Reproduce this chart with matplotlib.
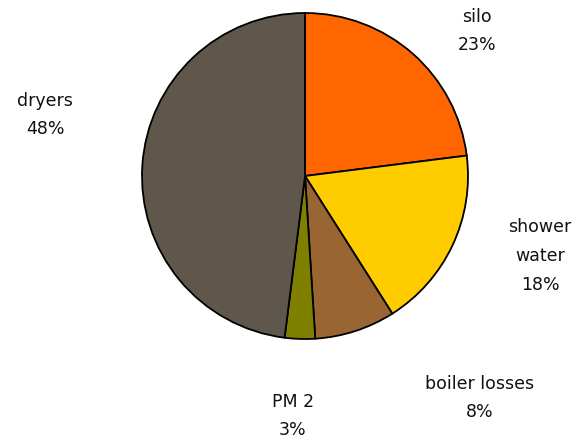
import matplotlib
matplotlib.use("Agg")
import matplotlib.pyplot as plt

categories = ["silo", "shower\nwater", "boiler losses", "PM 2", "dryers"]
values = [23, 18, 8, 3, 48]
pct_labels = ["23%", "18%", "8%", "3%", "48%"]
colors = ["#FF6600", "#FFCC00", "#996633", "#808000", "#5F574C"]

W, H = 582, 440
cx, cy, r = 305, 176, 163
fig = plt.figure(figsize=(W / 100, H / 100), dpi=100)
ax = fig.add_axes([(cx - r) / W, (H - cy - r) / H, 2 * r / W, 2 * r / H])
ax.pie(values, colors=colors, startangle=90, counterclock=False,
       wedgeprops=dict(edgecolor="black", linewidth=1.3))
ax.set_xlim(-1, 1)
ax.set_ylim(-1, 1)
ax.set_aspect("equal")
ax.axis("off")

# label block centers (pixel coords) converted to data coords
label_px = [(477, 31), (540, 256), (480, 398), (293, 416), (45, 115)]
for cat, pct, (px, py) in zip(categories, pct_labels, label_px):
    x = (px - cx) / r
    y = (cy - py) / r
    ax.text(x, y, f"{cat}\n{pct}", ha="center", va="center",
            fontsize=12.5, family="DejaVu Sans", color="#111111",
            linespacing=1.75, clip_on=False)

fig.savefig("out.png", dpi=100, facecolor="white")
